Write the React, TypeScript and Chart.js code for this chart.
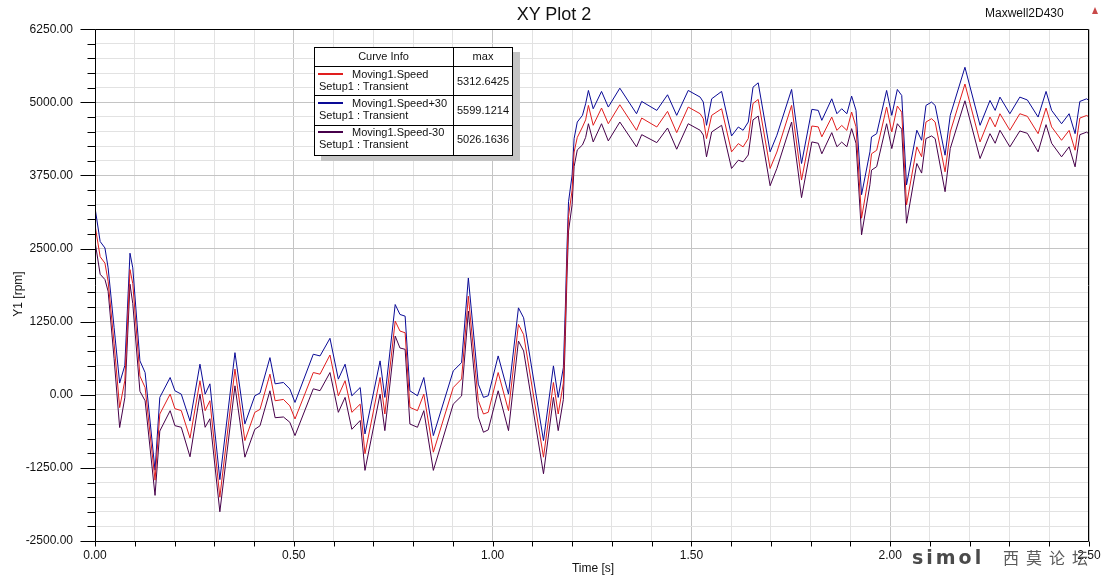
import React, { useEffect, useRef } from 'react';
import { Chart, registerables } from 'chart.js';

Chart.register(...registerables);

// ---- data (time in s, speed in rpm) ----
const timeS = [
  0.000, 0.013, 0.025, 0.033, 0.048, 0.062, 0.075, 0.088, 0.095, 0.113,
  0.126, 0.151, 0.163, 0.189, 0.201, 0.217, 0.239, 0.264, 0.277, 0.289,
  0.314, 0.352, 0.377, 0.402, 0.415, 0.440, 0.453, 0.474, 0.490, 0.503,
  0.549, 0.566, 0.591, 0.612, 0.629, 0.646, 0.667, 0.679, 0.717, 0.729,
  0.755, 0.767, 0.780, 0.792, 0.811, 0.827, 0.851, 0.901, 0.922, 0.939,
  0.964, 0.977, 0.989, 1.014, 1.040, 1.065, 1.078, 1.128, 1.153, 1.165,
  1.178, 1.183, 1.187, 1.191, 1.200, 1.205, 1.213, 1.226, 1.234, 1.241,
  1.253, 1.274, 1.291, 1.320, 1.362, 1.375, 1.413, 1.440, 1.463, 1.492,
  1.522, 1.530, 1.538, 1.551, 1.576, 1.601, 1.618, 1.630, 1.643, 1.655,
  1.668, 1.698, 1.715, 1.752, 1.777, 1.803, 1.819, 1.828, 1.853, 1.866,
  1.878, 1.891, 1.903, 1.914, 1.928, 1.949, 1.953, 1.966, 1.991, 2.004,
  2.018, 2.029, 2.041, 2.067, 2.079, 2.090, 2.104, 2.113, 2.138, 2.151,
  2.188, 2.226, 2.251, 2.264, 2.276, 2.301, 2.326, 2.345, 2.372, 2.392,
  2.406, 2.431, 2.450, 2.465, 2.477, 2.494, 2.500,
];

const speed = [
  2900, 2360, 2250, 1940, 880, -220, 240, 2140, 1900, 320,
  124, -1460, -330, 12, -238, -270, -740, 238, -272, -102,
  -1750, 440, -783, -300, -250, 352, -102, -80, -190, -414,
  380, 352, 680, -17, 240, -300, -160, -1008, 295, -329,
  1259, 1090, 1060, -216, -272, 11, -982, 124, 270, 1685,
  -100, -329, -300, 380, -272, 1203, 1030, -1067, 210, -329,
  200, 1250, 2250, 3050, 3500, 4150, 4400, 4578, 4700, 4947,
  4607, 4902, 4634, 4958, 4522, 4731, 4578, 4845, 4482, 4919,
  4805, 4720, 4379, 4777, 4890, 4153, 4294, 4238, 4380, 4980,
  5049, 3869, 4150, 4947, 3671, 4595, 4580, 4410, 4748, 4520,
  4605, 4520, 4834, 4580, 3018, 3869, 4120, 4180, 4919, 4493,
  4936, 4830, 3245, 4238, 4070, 4663, 4720, 4663, 3812, 4493,
  5313, 4323, 4748, 4580, 4805, 4522, 4805, 4760, 4464, 4902,
  4580, 4351, 4520, 4181, 4731, 4775, 4750,
];

const speedPlus30 = [
  3200, 2620, 2510, 2170, 1150, 200, 500, 2420, 2170, 580,
  380, -1290, -45, 295, 68, 11, -450, 523, 11, 187,
  -1450, 720, -498, -17, 30, 635, 187, 210, 100, -131,
  693, 664, 965, 267, 522, -17, 124, -670, 579, -45,
  1543, 1373, 1344, 68, -17, 295, -698, 408, 550, 1997,
  182, -45, -17, 664, 11, 1486, 1316, -783, 494, -45,
  466, 1500, 2500, 3300, 3756, 4379, 4663, 4777, 4975, 5203,
  4890, 5186, 4919, 5242, 4805, 5015, 4862, 5129, 4777, 5203,
  5089, 5004, 4607, 5060, 5186, 4425, 4578, 4522, 4663, 5259,
  5333, 4153, 4437, 5220, 3954, 4880, 4862, 4692, 5060, 4805,
  4890, 4805, 5106, 4862, 3420, 4153, 4408, 4464, 5203, 4777,
  5220, 5117, 3586, 4522, 4351, 4947, 5004, 4947, 4096, 4777,
  5599, 4607, 5032, 4862, 5089, 4805, 5089, 5040, 4748, 5186,
  4862, 4634, 4805, 4464, 5015, 5060, 5030,
];

const speedMinus30 = [
  2620, 2060, 1970, 1770, 620, -560, -50, 1890, 1560, 60,
  -102, -1720, -620, -272, -528, -556, -1060, 11, -556, -410,
  -2000, 153, -1067, -590, -530, 68, -392, -380, -470, -698,
  102, 70, 380, -300, -45, -590, -440, -1293, 11, -613,
  1004, 800, 777, -500, -556, -272, -1293, -160, -20, 1430,
  -380, -641, -600, 68, -613, 919, 750, -1350, -45, -613,
  -80, 1000, 2000, 2800, 3250, 3900, 4186, 4271, 4400, 4634,
  4323, 4634, 4340, 4663, 4238, 4447, 4311, 4561, 4198, 4634,
  4522, 4440, 4068, 4493, 4607, 3869, 4011, 3983, 4100, 4700,
  4766, 3574, 3870, 4663, 3370, 4323, 4300, 4120, 4482, 4240,
  4320, 4240, 4550, 4300, 2735, 3591, 3840, 3900, 4634, 4209,
  4634, 4540, 2933, 3954, 3790, 4380, 4425, 4380, 3472, 4209,
  5026, 4039, 4464, 4300, 4522, 4238, 4510, 4470, 4153, 4618,
  4300, 4068, 4240, 3897, 4447, 4490, 4460,
];

const seriesNames = ['Moving1.Speed', 'Moving1.Speed+30', 'Moving1.Speed-30'];
const seriesSetup = 'Setup1 : Transient';
const seriesMax = ['5312.6425', '5599.1214', '5026.1636'];
const seriesColors = ['#e01e1e', '#0a0a96', '#46004a'];

const xMin = 0, xMax = 2.5, xStep = 0.1, xLabelEvery = 0.5;
const yMin = -2500, yMax = 6250, yStep = 250, yLabelEvery = 1250;

const FONT = '"Liberation Sans", Arial, sans-serif';

const isMultiple = (v: number, m: number) => Math.abs(v / m - Math.round(v / m)) < 1e-6;

const framePlugin = {
  id: 'frameTicks',
  afterDraw(chart: any) {
    const { ctx, chartArea: a, scales } = chart;
    const L = Math.round(a.left) + 0.5;
    const R = Math.round(a.right) - 0.5;
    const T = Math.round(a.top) + 0.5;
    const B = Math.round(a.bottom) + 0.5;
    ctx.save();
    ctx.strokeStyle = '#000';
    ctx.lineWidth = 1;
    ctx.beginPath();
    ctx.rect(L, T, R - L, B - T);
    for (const t of scales.y.ticks) {
      const py = Math.round(scales.y.getPixelForValue(t.value)) + 0.5;
      const len = isMultiple(t.value, yLabelEvery) ? 15 : 8;
      ctx.moveTo(L - len, py);
      ctx.lineTo(L, py);
    }
    for (const t of scales.x.ticks) {
      const px = Math.round(scales.x.getPixelForValue(t.value)) + 0.5;
      ctx.moveTo(px, B);
      ctx.lineTo(px, B + 5);
    }
    ctx.stroke();
    ctx.restore();
  },
};

export default function App() {
  const canvasRef = useRef<HTMLCanvasElement | null>(null);

  useEffect(() => {
    if (!canvasRef.current) return;
    const mk = (vals: number[]) => timeS.map((t, i) => ({ x: t, y: vals[i] }));
    const chart = new Chart(canvasRef.current, {
      type: 'line',
      data: {
        datasets: [
          { label: seriesNames[0], data: mk(speed), borderColor: seriesColors[0], order: 0 },
          { label: seriesNames[1], data: mk(speedPlus30), borderColor: seriesColors[1], order: 1 },
          { label: seriesNames[2], data: mk(speedMinus30), borderColor: seriesColors[2], order: 2 },
        ].map((d) => ({ ...d, borderWidth: 1, pointRadius: 0, tension: 0, fill: false })),
      },
      options: {
        animation: false,
        responsive: false,
        devicePixelRatio: 1,
        layout: { padding: { top: 27, right: 23, left: 0, bottom: 0 } },
        plugins: { legend: { display: false }, title: { display: false }, tooltip: { enabled: false } },
        scales: {
          x: {
            type: 'linear',
            min: xMin,
            max: xMax,
            afterFit: (s: any) => { s.height = 37; },
            grid: {
              drawTicks: false,
              color: (c: any) => (c.tick && isMultiple(c.tick.value, xLabelEvery) ? '#c4c4c4' : '#e2e2e2'),
            },
            border: { display: false },
            ticks: {
              stepSize: xStep,
              autoSkip: false,
              maxRotation: 0,
              padding: 7,
              color: '#111',
              font: { family: FONT, size: 12 },
              callback: (v: any) => (isMultiple(Number(v), xLabelEvery) ? Number(v).toFixed(2) : ''),
            },
          },
          y: {
            type: 'linear',
            min: yMin,
            max: yMax,
            afterFit: (s: any) => { s.width = 95; },
            grid: {
              drawTicks: false,
              color: (c: any) => (c.tick && isMultiple(c.tick.value, yLabelEvery) ? '#c4c4c4' : '#e2e2e2'),
            },
            border: { display: false },
            ticks: {
              stepSize: yStep,
              autoSkip: false,
              padding: 22,
              color: '#111',
              font: { family: FONT, size: 12 },
              callback: (v: any) => (isMultiple(Number(v), yLabelEvery) ? Number(v).toFixed(2) : ''),
            },
          },
        },
      },
      plugins: [framePlugin],
    } as any);
    return () => chart.destroy();
  }, []);

  const txt: React.CSSProperties = { position: 'absolute', fontFamily: FONT, color: '#111', whiteSpace: 'nowrap' };
  const rowTops = [67, 96, 125];

  return (
    <div style={{ position: 'absolute', left: 0, top: 0, width: 1112, height: 578, background: '#fff', overflow: 'hidden' }}>
      <canvas ref={canvasRef} width={1112} height={578} style={{ position: 'absolute', left: 0, top: 0, width: 1112, height: 578 }} />

      <div style={{ ...txt, left: 454, top: 4, width: 200, textAlign: 'center', fontSize: 18, lineHeight: '20px' }}>XY Plot 2</div>
      <div style={{ ...txt, left: 985, top: 6, fontSize: 12, lineHeight: '14px' }}>Maxwell2D430</div>
      <div style={{ position: 'absolute', left: 1092, top: 7, width: 0, height: 0, borderLeft: '3.5px solid transparent', borderRight: '3.5px solid transparent', borderBottom: '7px solid #c84848' }} />

      <div style={{ ...txt, left: 18 - 40, top: 294 - 7, width: 80, textAlign: 'center', fontSize: 12, lineHeight: '14px', transform: 'rotate(-90deg)' }}>Y1 [rpm]</div>
      <div style={{ ...txt, left: 543, top: 561, width: 100, textAlign: 'center', fontSize: 12, lineHeight: '14px' }}>Time [s]</div>

      {/* legend table */}
      <div style={{ position: 'absolute', left: 314, top: 47, width: 199, height: 109, boxSizing: 'border-box', border: '1px solid #000', background: '#fff', boxShadow: '7px 5px 0 #c4c4c4' }} />
      <div style={{ position: 'absolute', left: 453, top: 47, width: 1, height: 108, background: '#000' }} />
      <div style={{ position: 'absolute', left: 314, top: 66, width: 198, height: 1, background: '#000' }} />
      <div style={{ position: 'absolute', left: 314, top: 95, width: 198, height: 1, background: '#000' }} />
      <div style={{ position: 'absolute', left: 314, top: 125, width: 198, height: 1, background: '#000' }} />
      <div style={{ ...txt, left: 314, top: 50, width: 139, textAlign: 'center', fontSize: 11, lineHeight: '13px' }}>Curve Info</div>
      <div style={{ ...txt, left: 453, top: 50, width: 60, textAlign: 'center', fontSize: 11, lineHeight: '13px' }}>max</div>
      {rowTops.map((rt, i) => (
        <React.Fragment key={i}>
          <div style={{ position: 'absolute', left: 318, top: rt + 6, width: 25, height: 2, background: seriesColors[i] }} />
          <div style={{ ...txt, left: 352, top: rt + 1, fontSize: 11, lineHeight: '13px' }}>{seriesNames[i]}</div>
          <div style={{ ...txt, left: 319, top: rt + 13, fontSize: 11, lineHeight: '13px' }}>{seriesSetup}</div>
          <div style={{ ...txt, left: 457, top: rt + 8, fontSize: 11, lineHeight: '13px' }}>{seriesMax[i]}</div>
        </React.Fragment>
      ))}

      {/* watermark */}
      <div style={{ ...txt, left: 912, top: 546, fontFamily: '"DejaVu Sans", sans-serif', fontWeight: 'bold', fontSize: 19, lineHeight: '22px', letterSpacing: 3, color: '#4a4a4a' }}>simol</div>
      <div style={{ ...txt, left: 1003, top: 548, fontFamily: '"Noto Sans CJK SC", sans-serif', fontSize: 16, lineHeight: '19px', letterSpacing: 7, color: '#5a5a5a' }}>西莫论坛</div>
    </div>
  );
}
